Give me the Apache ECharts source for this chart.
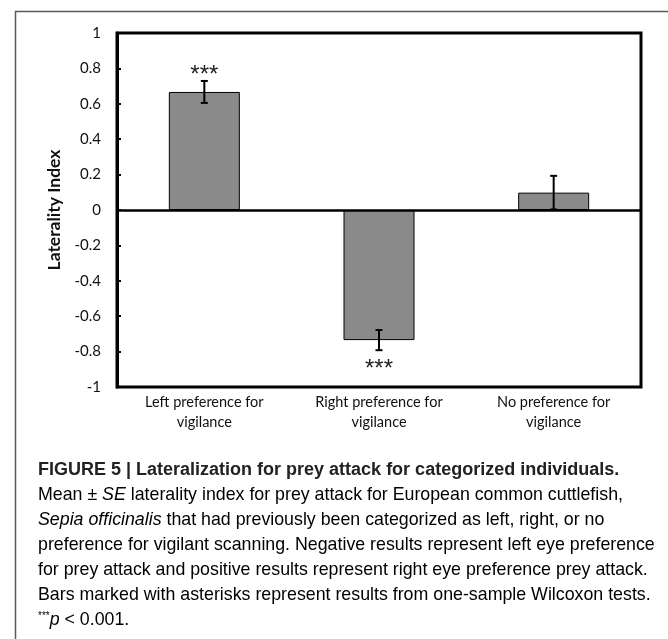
<!DOCTYPE html>
<html>
<head>
<meta charset="utf-8">
<script src="https://cdn.jsdelivr.net/npm/echarts@6/dist/echarts.min.js"></script>
<style>
html,body{margin:0;padding:0;background:#fff;}
#chart{width:668px;height:639px;}
</style>
</head>
<body>
<div id="chart"></div>
<script>
var categories = ['Left preference for\nvigilance', 'Right preference for\nvigilance', 'No preference for\nvigilance'];
var means = [0.667, -0.735, 0.098];
var errors = [0.062, 0.057, 0.095];
var stars = ['***', '***', ''];
var yTicks = { min: -1, max: 1, interval: 0.2 };

var captionTitle = 'FIGURE 5 | Lateralization for prey attack for categorized individuals.';
var captionLines = [
  [['n', 'Mean \u00b1 '], ['i', 'SE'], ['n', ' laterality index for prey attack for European common cuttlefish,']],
  [['i', 'Sepia officinalis'], ['n', ' that had previously been categorized as left, right, or no']],
  [['n', 'preference for vigilant scanning. Negative results represent left eye preference']],
  [['n', 'for prey attack and positive results represent right eye preference prey attack.']],
  [['n', 'Bars marked with asterisks represent results from one-sample Wilcoxon tests.']],
  [['s', '***'], ['i', 'p'], ['n', ' < 0.001.']]
];

var chartFont = 'Lato, "Open Sans", sans-serif';
var capFont = '"Liberation Sans", Arial, sans-serif';

var chart = echarts.init(document.getElementById('chart'), null, { renderer: 'canvas' });

var errData = means.map(function (m, i) { return [i, m, errors[i], stars[i]]; });

var graphics = [
  { type: 'polyline', shape: { points: [[15.5, 639], [15.5, 11.5], [668, 11.5]] }, style: { stroke: '#5a5a5a', lineWidth: 1.5, fill: null } },
  { type: 'text', left: 38, top: 461, style: { text: captionTitle, font: 'bold 18px ' + capFont, fill: '#222' } }
];
var rich = {
  n: { fontFamily: capFont, fontSize: 17.8, color: '#3a3a3a' },
  i: { fontFamily: capFont, fontSize: 17.8, fontStyle: 'italic', color: '#3a3a3a' },
  s: { fontFamily: capFont, fontSize: 10, color: '#3a3a3a', verticalAlign: 'top', padding: [0, 0, 9, 0] }
};
captionLines.forEach(function (parts, k) {
  var txt = parts.map(function (p) { return '{' + p[0] + '|' + p[1] + '}'; }).join('');
  graphics.push({ type: 'text', left: 38, top: 486 + k * 25, style: { text: txt, rich: rich } });
});

chart.setOption({
  animation: false,
  backgroundColor: '#fff',
  graphic: graphics,
  grid: { left: 117, top: 33, right: 27, bottom: 252, show: true, borderColor: '#000', borderWidth: 3, backgroundColor: 'transparent' },
  xAxis: {
    type: 'category', data: categories,
    axisLine: { show: false, onZero: false },
    axisTick: { show: false },
    axisLabel: { color: '#111', fontFamily: chartFont, fontSize: 14.5, lineHeight: 20, margin: 5 }
  },
  yAxis: {
    type: 'value', min: yTicks.min, max: yTicks.max, interval: yTicks.interval,
    name: 'Laterality Index', nameLocation: 'middle', nameGap: 53, nameRotate: 90,
    nameTextStyle: { fontFamily: chartFont, fontSize: 17.5, fontWeight: 'bold', color: '#111' },
    axisLine: { show: true, lineStyle: { color: '#000', width: 3 } },
    axisTick: { show: true, inside: true, length: 4, lineStyle: { color: '#000', width: 2 } },
    axisLabel: { color: '#111', fontFamily: chartFont, fontSize: 15, margin: 16 },
    splitLine: { show: false }
  },
  series: [
    {
      type: 'bar', data: means, barWidth: 71,
      itemStyle: { color: '#8a8a8a', borderColor: '#000', borderWidth: 1 },
      markLine: { silent: true, symbol: 'none', label: { show: false }, lineStyle: { color: '#000', width: 2.5, type: 'solid' }, data: [{ yAxis: 0 }] }
    },
    {
      type: 'custom', data: errData, z: 5,
      renderItem: function (params, api) {
        var x = api.value(0), m = api.value(1), e = api.value(2);
        var st = errData[params.dataIndex][3];
        var p1 = api.coord([x, m + e]), p2 = api.coord([x, m - e]);
        var cx = p1[0];
        var cap = 3.5;
        var ls = { stroke: '#000', lineWidth: 2 };
        var children = [
          { type: 'line', shape: { x1: cx, y1: p1[1], x2: cx, y2: p2[1] }, style: ls },
          { type: 'line', shape: { x1: cx - cap, y1: p1[1], x2: cx + cap, y2: p1[1] }, style: ls },
          { type: 'line', shape: { x1: cx - cap, y1: p2[1], x2: cx + cap, y2: p2[1] }, style: ls }
        ];
        if (st) {
          var pos = m >= 0 ? p1[1] - 6 : p2[1] + 19;
          children.push({ type: 'text', style: { text: st, x: cx, y: pos, align: 'center', verticalAlign: 'middle', font: '24px "Liberation Sans", Arial, sans-serif', fill: '#222' } });
        }
        return { type: 'group', children: children };
      }
    }
  ]
});
</script>
</body>
</html>
